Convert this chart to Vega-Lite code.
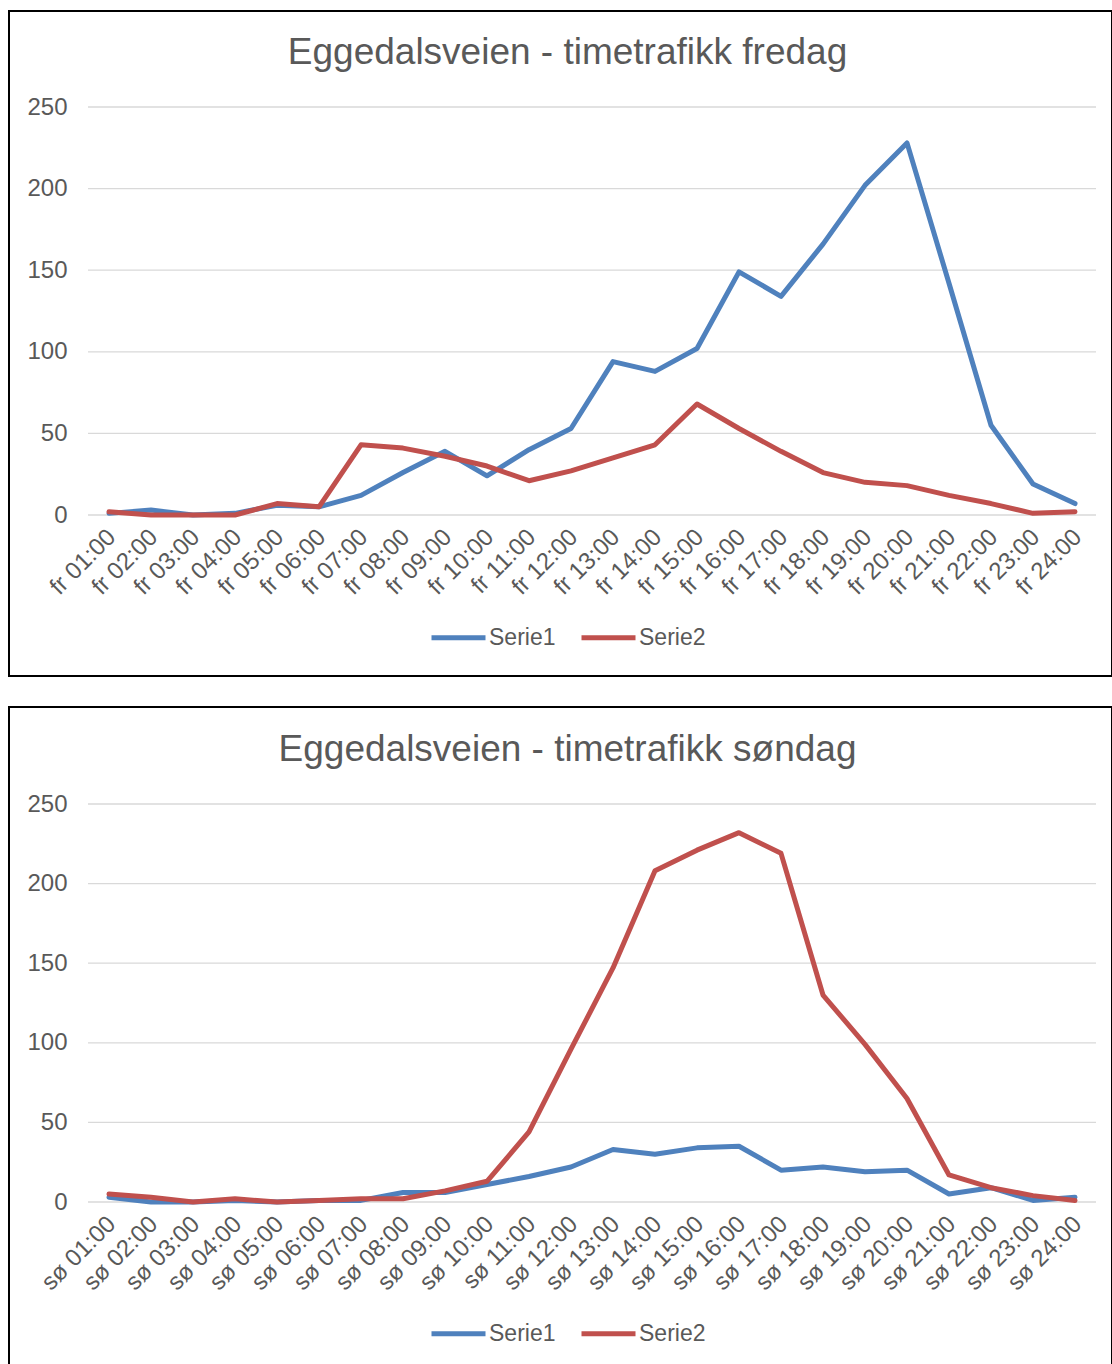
{
  "$schema": "https://vega.github.io/schema/vega-lite/v6.json",
  "padding": {"left": 8, "top": 10, "right": 0, "bottom": 0},
  "background": "white",
  "resolve": {"scale": {"color": "independent"}, "legend": {"color": "independent"}},
  "config": {
    "font": "Liberation Sans",
    "view": {"stroke": "#000000", "strokeWidth": 2},
    "concat": {"spacing": 29},
    "axis": {"labelFont": "Liberation Sans", "labelColor": "#595959", "labelFontSize": 24, "ticks": false, "domain": false, "grid": false},
    "legend": {"labelFont": "Liberation Sans", "labelColor": "#595959", "labelFontSize": 23},
    "title": {"font": "Liberation Sans", "fontSize": 37, "fontWeight": "normal", "color": "#595959", "anchor": "middle", "baseline": "alphabetic"}
  },
  "datasets": {
    "grid": [
      {"dag": "fr", "g": 0, "fra": "fr 01:00", "til": "fr 24:00"},
      {"dag": "fr", "g": 50, "fra": "fr 01:00", "til": "fr 24:00"},
      {"dag": "fr", "g": 100, "fra": "fr 01:00", "til": "fr 24:00"},
      {"dag": "fr", "g": 150, "fra": "fr 01:00", "til": "fr 24:00"},
      {"dag": "fr", "g": 200, "fra": "fr 01:00", "til": "fr 24:00"},
      {"dag": "fr", "g": 250, "fra": "fr 01:00", "til": "fr 24:00"},
      {"dag": "so", "g": 0, "fra": "sø 01:00", "til": "sø 24:00"},
      {"dag": "so", "g": 50, "fra": "sø 01:00", "til": "sø 24:00"},
      {"dag": "so", "g": 100, "fra": "sø 01:00", "til": "sø 24:00"},
      {"dag": "so", "g": 150, "fra": "sø 01:00", "til": "sø 24:00"},
      {"dag": "so", "g": 200, "fra": "sø 01:00", "til": "sø 24:00"},
      {"dag": "so", "g": 250, "fra": "sø 01:00", "til": "sø 24:00"}
    ],
    "traffic": [
      {"dag": "fr", "tid": "fr 01:00", "serie": "Serie1", "antall": 1},
      {"dag": "fr", "tid": "fr 02:00", "serie": "Serie1", "antall": 3},
      {"dag": "fr", "tid": "fr 03:00", "serie": "Serie1", "antall": 0},
      {"dag": "fr", "tid": "fr 04:00", "serie": "Serie1", "antall": 1},
      {"dag": "fr", "tid": "fr 05:00", "serie": "Serie1", "antall": 6},
      {"dag": "fr", "tid": "fr 06:00", "serie": "Serie1", "antall": 5},
      {"dag": "fr", "tid": "fr 07:00", "serie": "Serie1", "antall": 12},
      {"dag": "fr", "tid": "fr 08:00", "serie": "Serie1", "antall": 26},
      {"dag": "fr", "tid": "fr 09:00", "serie": "Serie1", "antall": 39},
      {"dag": "fr", "tid": "fr 10:00", "serie": "Serie1", "antall": 24},
      {"dag": "fr", "tid": "fr 11:00", "serie": "Serie1", "antall": 40},
      {"dag": "fr", "tid": "fr 12:00", "serie": "Serie1", "antall": 53},
      {"dag": "fr", "tid": "fr 13:00", "serie": "Serie1", "antall": 94},
      {"dag": "fr", "tid": "fr 14:00", "serie": "Serie1", "antall": 88},
      {"dag": "fr", "tid": "fr 15:00", "serie": "Serie1", "antall": 102},
      {"dag": "fr", "tid": "fr 16:00", "serie": "Serie1", "antall": 149},
      {"dag": "fr", "tid": "fr 17:00", "serie": "Serie1", "antall": 134},
      {"dag": "fr", "tid": "fr 18:00", "serie": "Serie1", "antall": 166},
      {"dag": "fr", "tid": "fr 19:00", "serie": "Serie1", "antall": 202},
      {"dag": "fr", "tid": "fr 20:00", "serie": "Serie1", "antall": 228},
      {"dag": "fr", "tid": "fr 21:00", "serie": "Serie1", "antall": 142},
      {"dag": "fr", "tid": "fr 22:00", "serie": "Serie1", "antall": 55},
      {"dag": "fr", "tid": "fr 23:00", "serie": "Serie1", "antall": 19},
      {"dag": "fr", "tid": "fr 24:00", "serie": "Serie1", "antall": 7},
      {"dag": "fr", "tid": "fr 01:00", "serie": "Serie2", "antall": 2},
      {"dag": "fr", "tid": "fr 02:00", "serie": "Serie2", "antall": 0},
      {"dag": "fr", "tid": "fr 03:00", "serie": "Serie2", "antall": 0},
      {"dag": "fr", "tid": "fr 04:00", "serie": "Serie2", "antall": 0},
      {"dag": "fr", "tid": "fr 05:00", "serie": "Serie2", "antall": 7},
      {"dag": "fr", "tid": "fr 06:00", "serie": "Serie2", "antall": 5},
      {"dag": "fr", "tid": "fr 07:00", "serie": "Serie2", "antall": 43},
      {"dag": "fr", "tid": "fr 08:00", "serie": "Serie2", "antall": 41},
      {"dag": "fr", "tid": "fr 09:00", "serie": "Serie2", "antall": 36},
      {"dag": "fr", "tid": "fr 10:00", "serie": "Serie2", "antall": 30},
      {"dag": "fr", "tid": "fr 11:00", "serie": "Serie2", "antall": 21},
      {"dag": "fr", "tid": "fr 12:00", "serie": "Serie2", "antall": 27},
      {"dag": "fr", "tid": "fr 13:00", "serie": "Serie2", "antall": 35},
      {"dag": "fr", "tid": "fr 14:00", "serie": "Serie2", "antall": 43},
      {"dag": "fr", "tid": "fr 15:00", "serie": "Serie2", "antall": 68},
      {"dag": "fr", "tid": "fr 16:00", "serie": "Serie2", "antall": 53},
      {"dag": "fr", "tid": "fr 17:00", "serie": "Serie2", "antall": 39},
      {"dag": "fr", "tid": "fr 18:00", "serie": "Serie2", "antall": 26},
      {"dag": "fr", "tid": "fr 19:00", "serie": "Serie2", "antall": 20},
      {"dag": "fr", "tid": "fr 20:00", "serie": "Serie2", "antall": 18},
      {"dag": "fr", "tid": "fr 21:00", "serie": "Serie2", "antall": 12},
      {"dag": "fr", "tid": "fr 22:00", "serie": "Serie2", "antall": 7},
      {"dag": "fr", "tid": "fr 23:00", "serie": "Serie2", "antall": 1},
      {"dag": "fr", "tid": "fr 24:00", "serie": "Serie2", "antall": 2},
      {"dag": "so", "tid": "sø 01:00", "serie": "Serie1", "antall": 3},
      {"dag": "so", "tid": "sø 02:00", "serie": "Serie1", "antall": 0},
      {"dag": "so", "tid": "sø 03:00", "serie": "Serie1", "antall": 0},
      {"dag": "so", "tid": "sø 04:00", "serie": "Serie1", "antall": 1},
      {"dag": "so", "tid": "sø 05:00", "serie": "Serie1", "antall": 0},
      {"dag": "so", "tid": "sø 06:00", "serie": "Serie1", "antall": 1},
      {"dag": "so", "tid": "sø 07:00", "serie": "Serie1", "antall": 1},
      {"dag": "so", "tid": "sø 08:00", "serie": "Serie1", "antall": 6},
      {"dag": "so", "tid": "sø 09:00", "serie": "Serie1", "antall": 6},
      {"dag": "so", "tid": "sø 10:00", "serie": "Serie1", "antall": 11},
      {"dag": "so", "tid": "sø 11:00", "serie": "Serie1", "antall": 16},
      {"dag": "so", "tid": "sø 12:00", "serie": "Serie1", "antall": 22},
      {"dag": "so", "tid": "sø 13:00", "serie": "Serie1", "antall": 33},
      {"dag": "so", "tid": "sø 14:00", "serie": "Serie1", "antall": 30},
      {"dag": "so", "tid": "sø 15:00", "serie": "Serie1", "antall": 34},
      {"dag": "so", "tid": "sø 16:00", "serie": "Serie1", "antall": 35},
      {"dag": "so", "tid": "sø 17:00", "serie": "Serie1", "antall": 20},
      {"dag": "so", "tid": "sø 18:00", "serie": "Serie1", "antall": 22},
      {"dag": "so", "tid": "sø 19:00", "serie": "Serie1", "antall": 19},
      {"dag": "so", "tid": "sø 20:00", "serie": "Serie1", "antall": 20},
      {"dag": "so", "tid": "sø 21:00", "serie": "Serie1", "antall": 5},
      {"dag": "so", "tid": "sø 22:00", "serie": "Serie1", "antall": 9},
      {"dag": "so", "tid": "sø 23:00", "serie": "Serie1", "antall": 1},
      {"dag": "so", "tid": "sø 24:00", "serie": "Serie1", "antall": 3},
      {"dag": "so", "tid": "sø 01:00", "serie": "Serie2", "antall": 5},
      {"dag": "so", "tid": "sø 02:00", "serie": "Serie2", "antall": 3},
      {"dag": "so", "tid": "sø 03:00", "serie": "Serie2", "antall": 0},
      {"dag": "so", "tid": "sø 04:00", "serie": "Serie2", "antall": 2},
      {"dag": "so", "tid": "sø 05:00", "serie": "Serie2", "antall": 0},
      {"dag": "so", "tid": "sø 06:00", "serie": "Serie2", "antall": 1},
      {"dag": "so", "tid": "sø 07:00", "serie": "Serie2", "antall": 2},
      {"dag": "so", "tid": "sø 08:00", "serie": "Serie2", "antall": 2},
      {"dag": "so", "tid": "sø 09:00", "serie": "Serie2", "antall": 7},
      {"dag": "so", "tid": "sø 10:00", "serie": "Serie2", "antall": 13},
      {"dag": "so", "tid": "sø 11:00", "serie": "Serie2", "antall": 44},
      {"dag": "so", "tid": "sø 12:00", "serie": "Serie2", "antall": 96},
      {"dag": "so", "tid": "sø 13:00", "serie": "Serie2", "antall": 147},
      {"dag": "so", "tid": "sø 14:00", "serie": "Serie2", "antall": 208},
      {"dag": "so", "tid": "sø 15:00", "serie": "Serie2", "antall": 221},
      {"dag": "so", "tid": "sø 16:00", "serie": "Serie2", "antall": 232},
      {"dag": "so", "tid": "sø 17:00", "serie": "Serie2", "antall": 219},
      {"dag": "so", "tid": "sø 18:00", "serie": "Serie2", "antall": 130},
      {"dag": "so", "tid": "sø 19:00", "serie": "Serie2", "antall": 99},
      {"dag": "so", "tid": "sø 20:00", "serie": "Serie2", "antall": 65},
      {"dag": "so", "tid": "sø 21:00", "serie": "Serie2", "antall": 17},
      {"dag": "so", "tid": "sø 22:00", "serie": "Serie2", "antall": 9},
      {"dag": "so", "tid": "sø 23:00", "serie": "Serie2", "antall": 4},
      {"dag": "so", "tid": "sø 24:00", "serie": "Serie2", "antall": 1}
    ]
  },
  "vconcat": [
    {
      "width": 1103,
      "height": 665,
      "title": {"text": "Eggedalsveien - timetrafikk fredag", "offset": -61, "dx": 7},
      "layer": [
        {
          "data": {"name": "grid"},
          "transform": [{"filter": "datum.dag == 'fr'"}],
          "mark": {"type": "rule", "color": "#D9D9D9", "strokeWidth": 1.3},
          "encoding": {
            "x": {"field": "fra", "type": "nominal", "bandPosition": 0, "title": null, "scale": {"type": "band", "range": [79, 1087], "paddingInner": 0, "paddingOuter": 0}},
            "x2": {"field": "til", "bandPosition": 1},
            "y": {"field": "g", "type": "quantitative", "title": null}
          }
        },
        {
          "data": {"name": "traffic"},
          "transform": [{"filter": "datum.dag == 'fr'"}],
          "mark": {"type": "line", "strokeWidth": 5, "strokeCap": "round", "strokeJoin": "round"},
          "encoding": {
            "x": {"field": "tid", "type": "nominal", "title": null, "scale": {"type": "band", "range": [79, 1087], "paddingInner": 0, "paddingOuter": 0},
                  "axis": {"orient": "bottom", "offset": -161, "labelAngle": -45, "labelPadding": 18, "labelOffset": 3, "labelOverlap": false, "labelBound": false, "labelFlush": false}},
            "y": {"field": "antall", "type": "quantitative", "title": null, "scale": {"domain": [0, 250], "range": [504, 96], "nice": false},
                  "axis": {"orient": "left", "offset": -58, "labelPadding": 0, "values": [0, 50, 100, 150, 200, 250]}},
            "color": {"field": "serie", "type": "nominal", "title": null,
                      "scale": {"domain": ["Serie1", "Serie2"], "range": ["#4F81BD", "#C0504D"]},
                      "legend": {"orient": "none", "legendX": 420, "legendY": 597, "direction": "horizontal", "symbolType": "stroke", "symbolSize": 2916, "symbolStrokeWidth": 5, "labelOffset": 1, "columnPadding": 15}}
          }
        }
      ]
    },
    {
      "width": 1103,
      "height": 658,
      "title": {"text": "Eggedalsveien - timetrafikk søndag", "offset": -62, "dx": 7},
      "layer": [
        {
          "data": {"name": "grid"},
          "transform": [{"filter": "datum.dag == 'so'"}],
          "mark": {"type": "rule", "color": "#D9D9D9", "strokeWidth": 1.3},
          "encoding": {
            "x": {"field": "fra", "type": "nominal", "bandPosition": 0, "title": null, "scale": {"type": "band", "range": [79, 1087], "paddingInner": 0, "paddingOuter": 0}},
            "x2": {"field": "til", "bandPosition": 1},
            "y": {"field": "g", "type": "quantitative", "title": null}
          }
        },
        {
          "data": {"name": "traffic"},
          "transform": [{"filter": "datum.dag == 'so'"}],
          "mark": {"type": "line", "strokeWidth": 5, "strokeCap": "round", "strokeJoin": "round"},
          "encoding": {
            "x": {"field": "tid", "type": "nominal", "title": null, "scale": {"type": "band", "range": [79, 1087], "paddingInner": 0, "paddingOuter": 0},
                  "axis": {"orient": "bottom", "offset": -163, "labelAngle": -45, "labelPadding": 18, "labelOffset": 3, "labelOverlap": false, "labelBound": false, "labelFlush": false}},
            "y": {"field": "antall", "type": "quantitative", "title": null, "scale": {"domain": [0, 250], "range": [495, 97], "nice": false},
                  "axis": {"orient": "left", "offset": -58, "labelPadding": 0, "values": [0, 50, 100, 150, 200, 250]}},
            "color": {"field": "serie", "type": "nominal", "title": null,
                      "scale": {"domain": ["Serie1", "Serie2"], "range": ["#4F81BD", "#C0504D"]},
                      "legend": {"orient": "none", "legendX": 420, "legendY": 597, "direction": "horizontal", "symbolType": "stroke", "symbolSize": 2916, "symbolStrokeWidth": 5, "labelOffset": 1, "columnPadding": 15}}
          }
        }
      ]
    }
  ]
}
